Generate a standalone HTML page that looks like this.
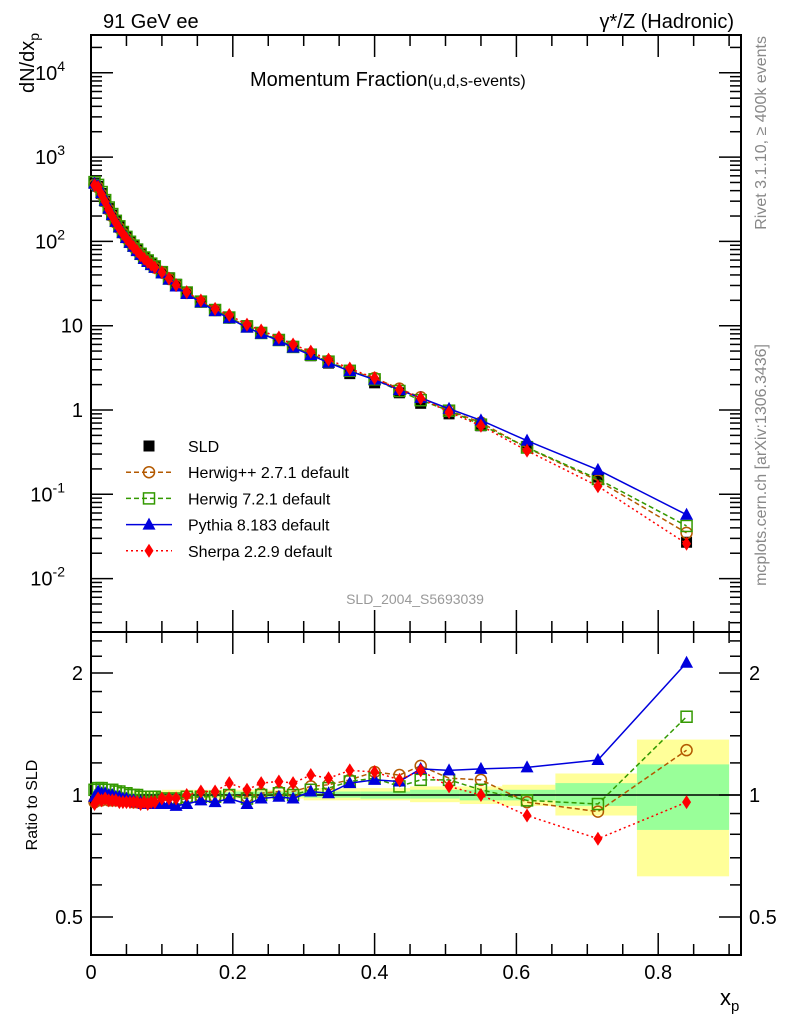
<!DOCTYPE html>
<html><head><meta charset="utf-8"><style>
body{margin:0;background:#fff;width:786px;height:1024px;overflow:hidden}
svg text{font-family:"Liberation Sans",sans-serif}
</style></head><body>
<svg id="c" width="786" height="1024" xmlns="http://www.w3.org/2000/svg"></svg>
<script>
const xs=[0.005,0.01,0.015,0.02,0.025,0.03,0.035,0.04,0.045,0.05,0.055,0.06,0.065,0.07,0.075,0.08,0.085,0.09,0.1,0.11,0.12,0.135,0.155,0.175,0.195,0.22,0.24,0.265,0.285,0.31,0.335,0.365,0.4,0.435,0.465,0.505,0.55,0.615,0.715,0.84];
const sld=[490,450,370,300,245,205,172,148,128,112,99,89,80,72,65,60,55,51,44,37,31,25,19.5,15.5,12.5,10,8.2,6.7,5.6,4.4,3.6,2.7,2.1,1.6,1.2,0.9,0.65,0.37,0.16,0.027];
const rHpp=[0.96,0.97,0.97,0.98,0.97,0.97,0.97,0.97,0.97,0.97,0.97,0.96,0.96,0.96,0.96,0.96,0.96,0.96,0.97,0.97,0.97,0.98,0.99,0.99,1.0,0.99,1.01,1.02,1.02,1.05,1.06,1.09,1.14,1.12,1.18,1.1,1.09,0.96,0.91,1.29];
const rH7=[1.03,1.04,1.04,1.03,1.03,1.03,1.02,1.02,1.01,1.01,1.0,1.0,1.0,0.99,0.99,0.99,0.99,0.99,0.98,0.98,0.98,0.99,0.99,0.99,1.0,0.98,1.0,1.01,1.0,1.03,1.04,1.08,1.1,1.05,1.09,1.09,1.03,0.97,0.95,1.56];
const rPy=[0.99,1.02,1.01,1.01,1.0,1.0,0.99,0.99,0.98,0.98,0.97,0.97,0.96,0.96,0.95,0.95,0.95,0.95,0.95,0.95,0.94,0.95,0.97,0.96,0.98,0.95,0.98,0.99,0.98,1.02,1.01,1.07,1.09,1.08,1.16,1.15,1.16,1.17,1.22,2.12];
const rSh=[0.95,0.98,0.97,0.98,0.97,0.97,0.97,0.96,0.96,0.96,0.96,0.96,0.96,0.95,0.96,0.95,0.96,0.96,0.98,0.98,0.98,1.0,1.02,1.02,1.07,1.03,1.07,1.08,1.07,1.12,1.1,1.15,1.14,1.09,1.15,1.05,1.0,0.89,0.78,0.96];
const bandEdges=[0,0.1,0.2,0.3,0.38,0.45,0.52,0.58,0.655,0.77,0.9];
const yLo=[0.98,0.98,0.98,0.97,0.97,0.96,0.95,0.94,0.89,0.63];
const yHi=[1.02,1.03,1.03,1.04,1.04,1.05,1.05,1.06,1.13,1.37];
const gLo=[0.99,0.99,0.99,0.985,0.98,0.98,0.97,0.97,0.94,0.82];
const gHi=[1.01,1.015,1.02,1.02,1.02,1.03,1.03,1.03,1.07,1.19];
const xTicks=[0,0.2,0.4,0.6,0.8];
const xTickLabels=["0","0.2","0.4","0.6","0.8"];

const L=91,R=741,T=35,M=632,B=955;
const X=v=>L+v*709;
const Y=v=>410-Math.log10(v)*84.3;
const RY=v=>795-Math.log2(v)*122;
const svg=document.getElementById('c');
const NS='http://www.w3.org/2000/svg';
function el(tag,attrs,parent){const e=document.createElementNS(NS,tag);for(const k in attrs)e.setAttribute(k,attrs[k]);(parent||svg).appendChild(e);return e;}
function txt(s,attrs,parent){const e=el('text',attrs,parent);e.textContent=s;return e;}

const gb=el('g',{});


for(let i=0;i<yLo.length;i++){
 el('rect',{x:X(bandEdges[i]),y:RY(yHi[i]),width:X(bandEdges[i+1])-X(bandEdges[i]),height:RY(yLo[i])-RY(yHi[i]),fill:'#ffff99'},gb);
 el('rect',{x:X(bandEdges[i]),y:RY(gHi[i]),width:X(bandEdges[i+1])-X(bandEdges[i]),height:RY(gLo[i])-RY(gHi[i]),fill:'#99ff99'},gb);
}
el('line',{x1:L,x2:R,y1:RY(1),y2:RY(1),stroke:'#000','stroke-width':1.5});

const f1=el('rect',{x:L,y:T,width:R-L,height:M-T,fill:'none',stroke:'#000','stroke-width':2});

const f2=el('rect',{x:L,y:M,width:R-L,height:B-M,fill:'none',stroke:'#000','stroke-width':2});


for(let d=-3;d<=4;d++){for(let m=1;m<10;m++){const v=m*Math.pow(10,d);const y=Y(v);if(y<T||y>M)continue;const len=m==1?22:11;
 el('line',{x1:L,x2:L+len,y1:y,y2:y,stroke:'#000','stroke-width':1.5});el('line',{x1:R,x2:R-len,y1:y,y2:y,stroke:'#000','stroke-width':1.5});}}
const yl=[[-2,'10','-2'],[-1,'10','-1'],[0,'1',''],[1,'10',''],[2,'10','2'],[3,'10','3'],[4,'10','4']];
yl.forEach(a=>{const t=txt(a[1],{x:a[2]?L-30:L-8,y:Y(Math.pow(10,a[0]))+7,'font-size':20,'text-anchor':'end'});
 if(a[2]){t.setAttribute('x',L-26);const s=el('tspan',{'font-size':14,dy:-9},t);s.textContent=a[2];}
 });
[0.5,0.6,0.7,0.8,0.9,1,1.2,1.4,1.6,1.8,2,2.2,2.4].forEach(v=>{const y=RY(v);const len=(v==0.5||v==1||v==2)?22:11;
 el('line',{x1:L,x2:L+len,y1:y,y2:y,stroke:'#000','stroke-width':1.5});el('line',{x1:R,x2:R-len,y1:y,y2:y,stroke:'#000','stroke-width':1.5});});
[[0.5,'0.5'],[1,'1'],[2,'2']].forEach(a=>{txt(a[1],{x:L-8,y:RY(a[0])+7,'font-size':20,'text-anchor':'end'});txt(a[1],{x:R+8,y:RY(a[0])+7,'font-size':20});});
for(let i=0;i<=18;i++){const v=i*0.05;const x=X(v);if(x>R)continue;const len=i%4==0?22:11;
 el('line',{x1:x,x2:x,y1:B,y2:B-len,stroke:'#000','stroke-width':1.5});el('line',{x1:x,x2:x,y1:M,y2:M-len,stroke:'#000','stroke-width':1.5});el('line',{x1:x,x2:x,y1:M,y2:M+len,stroke:'#000','stroke-width':1.5});el('line',{x1:x,x2:x,y1:T,y2:T+len,stroke:'#000','stroke-width':1.5});}
xTicks.forEach((v,i)=>{const t=txt(xTickLabels[i],{x:X(v),y:979,'font-size':20,'text-anchor':'middle'});});

const series=[
 {name:'herwigpp',r:rHpp,c:'#b35900',dash:'5,3',m:'circle'},
 {name:'herwig7',r:rH7,c:'#339900',dash:'5,3',m:'square'},
 {name:'pythia',r:rPy,c:'#0000dd',dash:'',m:'tri'},
 {name:'sherpa',r:rSh,c:'#ff0000',dash:'2,3',m:'diamond'}];
function marker(g,m,x,y,c){
 if(m=='circle')el('circle',{cx:x,cy:y,r:5.5,fill:'none',stroke:c,'stroke-width':1.5},g);
 else if(m=='square')el('rect',{x:x-5.5,y:y-5.5,width:11,height:11,fill:'none',stroke:c,'stroke-width':1.5},g);
 else if(m=='tri')el('polygon',{points:`${x},${y-7} ${x-6.5},${y+5} ${x+6.5},${y+5}`,fill:c},g);
 else if(m=='diamond')el('polygon',{points:`${x},${y-7} ${x-4.5},${y} ${x},${y+7} ${x+4.5},${y}`,fill:c},g);
 else el('rect',{x:x-5.5,y:y-5.5,width:11,height:11,fill:c},g);
}
const gd=el('g',{});


xs.forEach((x,i)=>marker(gd,'sq',X(x),Y(sld[i]),'#000'));
series.forEach(s=>{
 const g=el('g',{});
 
 
 const p1=xs.map((x,i)=>X(x)+','+Y(sld[i]*s.r[i])).join(' ');
 el('polyline',{points:p1,fill:'none',stroke:s.c,'stroke-width':1.5,'stroke-dasharray':s.dash},g);
 xs.forEach((x,i)=>marker(g,s.m,X(x),Y(sld[i]*s.r[i]),s.c));
 const p2=xs.map((x,i)=>X(x)+','+RY(s.r[i])).join(' ');
 el('polyline',{points:p2,fill:'none',stroke:s.c,'stroke-width':1.5,'stroke-dasharray':s.dash},g);
 xs.forEach((x,i)=>marker(g,s.m,X(x),RY(s.r[i]),s.c));
});

const leg=[['SLD','#000','','sq'],['Herwig++ 2.7.1 default','#b35900','5,3','circle'],['Herwig 7.2.1 default','#339900','5,3','square'],['Pythia 8.183 default','#0000dd','','tri'],['Sherpa 2.2.9 default','#ff0000','2,3','diamond']];
const lg=el('g',{});


leg.forEach((a,i)=>{const y=446+i*26.2;
 if(i>0)el('line',{x1:126,x2:172,y1:y,y2:y,stroke:a[1],'stroke-width':1.5,'stroke-dasharray':a[2]},lg);
 marker(lg,a[3],149,y,a[1]);
 txt(a[0],{x:188,y:y+6,'font-size':16},lg);});

txt('91 GeV ee',{x:103,y:28,'font-size':20});
txt('γ*/Z (Hadronic)',{x:734,y:28,'font-size':20,'text-anchor':'end'});
const tt=txt('Momentum Fraction',{x:250,y:86,'font-size':20});
const ts=el('tspan',{'font-size':16},tt);ts.textContent='(u,d,s-events)';

txt('SLD_2004_S5693039',{x:415,y:604,'font-size':14,fill:'#999','text-anchor':'middle'});
const yt=txt('dN/dx',{x:0,y:0,'font-size':20,'text-anchor':'end',transform:'translate(34,33) rotate(-90)'});
const yts=el('tspan',{'font-size':14,dy:5},yt);yts.textContent='p';

txt('Ratio to SLD',{x:0,y:0,'font-size':16,'text-anchor':'middle',transform:'translate(37,805) rotate(-90)'});
const xt=txt('x',{x:720,y:1005,'font-size':22});
const xts=el('tspan',{'font-size':15,dy:6},xt);xts.textContent='p';

txt('Rivet 3.1.10, ≥ 400k events',{x:0,y:0,'font-size':16,fill:'#888','text-anchor':'end',transform:'translate(766,36) rotate(-90)'});
txt('mcplots.cern.ch [arXiv:1306.3436]',{x:0,y:0,'font-size':16,fill:'#888','text-anchor':'end',transform:'translate(766,344) rotate(-90)'});
</script>
</body></html>
